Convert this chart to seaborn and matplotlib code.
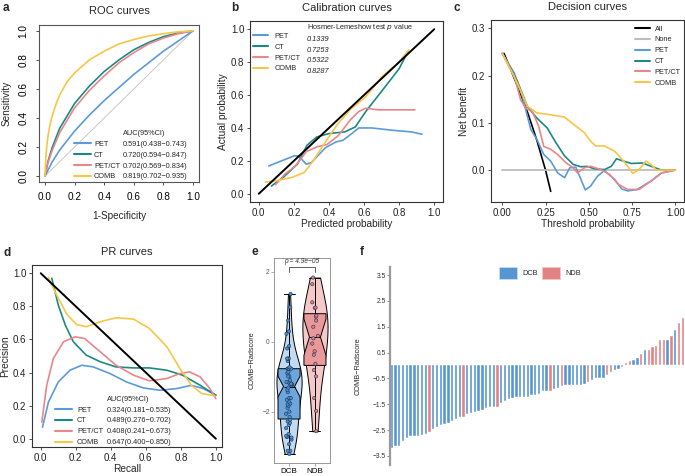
import numpy as np
import pandas as pd
import matplotlib
matplotlib.use("Agg")
import matplotlib.pyplot as plt
import seaborn as sns
from matplotlib.lines import Line2D
from matplotlib.patches import Patch

sns.set_theme(style="white")
plt.rcParams['font.family'] = ['Liberation Sans', 'DejaVu Sans']

models = ['PET', 'CT', 'PET/CT', 'COMB']
pal = {'PET': '#5b9bd9', 'CT': '#1b8a83', 'PET/CT': '#e9868a', 'COMB': '#f7c645'}

#%% data
# a - ROC
roc_fpr = {
    'PET':    [0, 0.05, 0.1, 0.2, 0.3, 0.4, 0.5, 0.6, 0.7, 0.8, 0.9, 1],
    'CT':     [0, 0.02, 0.05, 0.1, 0.2, 0.3, 0.4, 0.5, 0.6, 0.7, 0.8, 0.9, 1],
    'PET/CT': [0, 0.02, 0.05, 0.1, 0.2, 0.3, 0.4, 0.5, 0.6, 0.7, 0.8, 0.9, 1],
    'COMB':   [0, 0.005, 0.01, 0.02, 0.03, 0.045, 0.06, 0.08, 0.1, 0.15, 0.2, 0.3, 0.4, 0.5, 0.6, 0.7, 0.8, 0.9, 1],
}
roc_tpr = {
    'PET':    [0, 0.10, 0.18, 0.31, 0.42, 0.52, 0.61, 0.70, 0.78, 0.86, 0.93, 1],
    'CT':     [0, 0.10, 0.20, 0.33, 0.50, 0.62, 0.72, 0.80, 0.87, 0.92, 0.96, 0.985, 1],
    'PET/CT': [0, 0.09, 0.18, 0.30, 0.47, 0.59, 0.69, 0.78, 0.85, 0.91, 0.95, 0.98, 1],
    'COMB':   [0, 0.11, 0.18, 0.27, 0.33, 0.40, 0.45, 0.51, 0.56, 0.65, 0.71, 0.80, 0.86, 0.91, 0.94, 0.965, 0.98, 0.993, 1],
}
roc_auc = ['0.591(0.438\u22120.743)', '0.720(0.594\u22120.847)',
           '0.702(0.569\u22120.834)', '0.819(0.702\u22120.935)']

# b - calibration
cal_x = {
    'PET':    [0.057, 0.2, 0.228, 0.27, 0.30, 0.38, 0.44, 0.48, 0.53, 0.57, 0.645, 0.76, 0.87, 0.93],
    'CT':     [0.072, 0.14, 0.22, 0.275, 0.33, 0.40, 0.49, 0.55, 0.61, 0.72, 0.80, 0.85],
    'PET/CT': [0.095, 0.15, 0.21, 0.27, 0.33, 0.39, 0.455, 0.52, 0.57, 0.61, 0.68, 0.80, 0.89],
    'COMB':   [0.038, 0.11, 0.19, 0.26, 0.31, 0.38, 0.445, 0.52, 0.61, 0.70, 0.80, 0.855],
}
cal_y = {
    'PET':    [0.169, 0.23, 0.23, 0.18, 0.19, 0.28, 0.315, 0.325, 0.366, 0.40, 0.40, 0.386, 0.376, 0.362],
    'CT':     [0.047, 0.10, 0.18, 0.295, 0.345, 0.366, 0.376, 0.406, 0.50, 0.65, 0.76, 0.864],
    'PET/CT': [0.055, 0.12, 0.17, 0.255, 0.285, 0.30, 0.355, 0.447, 0.50, 0.52, 0.51, 0.51, 0.51],
    'COMB':   [0.071, 0.081, 0.10, 0.13, 0.20, 0.315, 0.417, 0.51, 0.59, 0.71, 0.80, 0.874],
}
hl_p = ['0.1339', '0.7253', '0.5322', '0.8287']

# c - decision curves
dca_all_t = [0.01, 0.1, 0.15, 0.2, 0.25, 0.28]
dca_all_nb = [0.247, 0.167, 0.118, 0.063, 0.0, -0.045]
dca_none_t = [0.0, 1.0]
dca_none_nb = [0.0, 0.0]
dca_t = {
    'PET':    [0.0, 0.07, 0.116, 0.165, 0.2, 0.24, 0.28, 0.32, 0.36, 0.39, 0.425, 0.455, 0.48, 0.51, 0.55, 0.59, 0.65, 0.69, 0.725, 0.78, 0.86, 0.92, 1.0],
    'CT':     [0.0, 0.087, 0.145, 0.2, 0.26, 0.31, 0.36, 0.41, 0.455, 0.49, 0.53, 0.59, 0.63, 0.66, 0.70, 0.745, 0.81, 0.86, 0.92, 1.0],
    'PET/CT': [0.0, 0.07, 0.106, 0.135, 0.174, 0.21, 0.24, 0.28, 0.32, 0.37, 0.41, 0.435, 0.475, 0.51, 0.57, 0.62, 0.67, 0.725, 0.79, 0.86, 0.92, 1.0],
    'COMB':   [0.0, 0.087, 0.145, 0.2, 0.28, 0.36, 0.415, 0.475, 0.51, 0.54, 0.59, 0.65, 0.71, 0.755, 0.79, 0.83, 0.86, 0.89, 1.0],
}
dca_nb = {
    'PET':    [0.247, 0.205, 0.156, 0.086, 0.065, 0.033, 0.019, -0.006, -0.016, 0.005, 0.006, -0.02, -0.042, -0.034, -0.013, -0.001, -0.02, -0.04, -0.044, -0.041, -0.023, -0.006, 0.0],
    'CT':     [0.247, 0.188, 0.135, 0.11, 0.089, 0.058, 0.03, 0.012, 0.007, 0.008, 0.003, 0.001, 0.008, 0.024, 0.019, 0.014, 0.015, 0.008, 0.0, 0.0],
    'PET/CT': [0.247, 0.198, 0.149, 0.131, 0.124, 0.093, 0.05, 0.044, 0.033, 0.015, 0.005, -0.006, 0.005, 0.008, 0.001, -0.009, -0.03, -0.041, -0.041, -0.023, -0.006, 0.0],
    'COMB':   [0.247, 0.184, 0.135, 0.121, 0.117, 0.112, 0.096, 0.079, 0.061, 0.051, 0.051, 0.04, 0.015, -0.007, 0.001, 0.019, 0.012, 0.0, 0.0],
}

# d - PR curves
pr_rec = {
    'PET':    [0.01, 0.044, 0.10, 0.167, 0.234, 0.30, 0.395, 0.49, 0.586, 0.68, 0.776, 0.86, 0.928, 1.0],
    'CT':     [0.063, 0.10, 0.14, 0.186, 0.26, 0.34, 0.43, 0.53, 0.62, 0.72, 0.81, 0.91, 1.0],
    'PET/CT': [0.006, 0.034, 0.072, 0.13, 0.196, 0.25, 0.34, 0.43, 0.53, 0.62, 0.72, 0.795, 0.85, 0.91, 0.966, 1.0],
    'COMB':   [0.044, 0.09, 0.15, 0.205, 0.26, 0.34, 0.43, 0.53, 0.62, 0.72, 0.795, 0.86, 0.92, 0.994],
}
pr_prec = {
    'PET':    [0.07, 0.222, 0.343, 0.414, 0.444, 0.434, 0.394, 0.343, 0.307, 0.293, 0.303, 0.323, 0.303, 0.263],
    'CT':     [0.97, 0.808, 0.687, 0.586, 0.505, 0.465, 0.434, 0.428, 0.428, 0.414, 0.384, 0.323, 0.263],
    'PET/CT': [0.10, 0.323, 0.485, 0.586, 0.616, 0.606, 0.525, 0.444, 0.384, 0.35, 0.364, 0.394, 0.404, 0.374, 0.303, 0.242],
    'COMB':   [0.974, 0.87, 0.75, 0.69, 0.677, 0.707, 0.731, 0.723, 0.667, 0.556, 0.424, 0.323, 0.273, 0.259],
}
pr_auc = ['0.324(0.181\u22120.535)', '0.489(0.276\u22120.702)',
          '0.408(0.241\u22120.673)', '0.647(0.400\u22120.850)']

# e/f - COMB radscore per patient (sorted), group code D=DCB, N=NDB
radscore = [-3.21, -3.12, -3.12, -2.93, -2.80, -2.74, -2.72, -2.72, -2.69, -2.64,
            -2.56, -2.47, -2.38, -2.32, -2.28, -2.23, -2.15, -2.06, -2.00, -1.98,
            -1.89, -1.83, -1.79, -1.77, -1.71, -1.66, -1.61, -1.61, -1.61, -1.44,
            -1.38, -1.31, -1.25, -1.22, -1.22, -1.20, -1.20, -1.16, -1.15, -1.10,
            -0.99, -0.99, -0.99, -0.90, -0.86, -0.81, -0.77, -0.77, -0.77, -0.77,
            -0.77, -0.73, -0.63, -0.55, -0.48, -0.48, -0.48, -0.37, -0.27, -0.19,
            -0.12, -0.05, 0.10, 0.17, 0.23, 0.30, 0.43, 0.61, 0.61, 0.72,
            0.75, 0.97, 0.98, 0.99, 1.13, 1.37, 1.65, 1.84]
group_code = ("DDDDDDDDDD" "N" "DDDDDDDD" "N" "DDDDDDDD" "N" "DDDDDDDDDDDDD" "N"
              "DD" "N" "DDDDDD" "N" "DDDD" "NN" "DD" "NNN" "DD" "N" "D" "NNNNN"
              "D" "N" "D" "NN")
groups = ['DCB' if c == 'D' else 'NDB' for c in group_code]
p_text = 'p = 4.9e\u221205'

grp_bar = {'DCB': '#5596d3', 'NDB': '#e38284'}
grp_violin = {'DCB': '#c3daf1', 'NDB': '#f5c9c9'}
grp_box = {'DCB': '#6ea6dc', 'NDB': '#e9999a'}
grp_pt = {'DCB': '#4a8fd6', 'NDB': '#e67c7f'}

#%% helpers
TK = 7
LF = 5.3
LS = 0.5
W, H = 685, 476

def px_axes(fig, l, t, r, b):
    return fig.add_axes([l / W, 1 - b / H, (r - l) / W, (b - t) / H])

def long_df(xs, ys):
    parts = [pd.DataFrame({'model': m, 'x': xs[m], 'y': ys[m]}) for m in models]
    return pd.concat(parts, ignore_index=True)

def gg_style(ax):
    for s in ax.spines.values():
        s.set_color('#333333')
        s.set_linewidth(0.8)
    ax.tick_params(axis='both', which='both', direction='out', length=2.5, width=0.6,
                   color='#333333', labelsize=TK, labelcolor='#222222', pad=1.5,
                   bottom=True, left=True)

def two_col_legend(ax, handles, names, values, header, x_line, x_val, y, loc,
                   hl, pad, italic_vals=False, spacing=LS):
    blank = Line2D([], [], color='none')
    leg1 = ax.legend([blank] + handles, [''] + names, loc=loc, bbox_to_anchor=(x_line, y),
                     frameon=False, fontsize=LF, handlelength=hl, handletextpad=pad,
                     borderpad=0, borderaxespad=0, labelspacing=spacing)
    ax.add_artist(leg1)
    leg2 = ax.legend([blank] * 5, [header] + values, loc=loc, bbox_to_anchor=(x_val, y),
                     frameon=False, fontsize=LF, handlelength=0, handletextpad=0,
                     borderpad=0, borderaxespad=0, labelspacing=spacing)
    if italic_vals:
        for t in leg2.get_texts()[1:]:
            t.set_style('italic')
    return leg2

fig = plt.figure(figsize=(6.85, 4.76), dpi=100)

def letter(x, y, s):
    fig.text(x / W, 1 - y / H, s, fontsize=8.5, fontweight='bold', ha='left', va='center')

#%% a ROC
ax = px_axes(fig, 39, 25, 199, 182)
sns.lineplot(x=[0, 1], y=[0, 1], color='#c8c8c8', lw=0.7, ax=ax)
sns.lineplot(data=long_df(roc_fpr, roc_tpr), x='x', y='y', hue='model', hue_order=models,
             palette=pal, sort=False, estimator=None, lw=1.2, legend=False, ax=ax)
ax.set_xlim(-0.04, 1.04)
ax.set_ylim(-0.04, 1.04)
ax.set_xticks(np.arange(0, 1.01, 0.2))
ax.set_yticks(np.arange(0, 1.01, 0.2))
gg_style(ax)
for s in ax.spines.values():
    s.set_color('#555555')
ax.tick_params(axis='y', labelrotation=90)
for t in ax.get_yticklabels():
    t.set_va('center')
ax.tick_params(labelcolor='black', labelsize=7.2, pad=5)
ax.set_xlabel('1-Specificity', fontsize=7.2, labelpad=6)
ax.set_ylabel('Sensitivity', fontsize=7.2, labelpad=5)
ax.set_title('ROC curves', fontsize=8, pad=8)
h = [Line2D([], [], color=pal[m], lw=1.5) for m in models]
two_col_legend(ax, h, models, roc_auc, 'AUC(95%CI)', 0.219, 0.525, 0.01, 'lower left', 2.3, 0.4)
letter(3, 8, 'a')

#%% b calibration
ax = px_axes(fig, 250, 21, 443, 202)
sns.lineplot(data=long_df(cal_x, cal_y), x='x', y='y', hue='model', hue_order=models,
             palette=pal, sort=False, estimator=None, lw=1.2, legend=False, ax=ax)
sns.lineplot(x=[0, 1], y=[0, 1], color='black', lw=1.4, ax=ax)
ax.set_xlim(-0.05, 1.05)
ax.set_ylim(-0.05, 1.05)
ax.set_xticks(np.arange(0, 1.01, 0.2))
ax.set_yticks(np.arange(0, 1.01, 0.2))
gg_style(ax)
ax.set_xlabel('Predicted probability', fontsize=7.3, labelpad=1)
ax.set_ylabel('Actual probability', fontsize=7.3, labelpad=2)
ax.set_title('Calibration curves', fontsize=8, pad=7)
two_col_legend(ax, h, models, hl_p, 'Hosmer-Lemeshow test $\\it{p}$ value',
               0.016, 0.295, 0.995, 'upper left', 2.0, 0.95, italic_vals=True)
letter(231, 8, 'b')

#%% c decision curves
ax = px_axes(fig, 491, 20, 684, 202)
sns.lineplot(x=dca_all_t, y=dca_all_nb, color='black', lw=1.2, ax=ax)
sns.lineplot(x=dca_none_t, y=dca_none_nb, color='#bdbdbd', lw=1.3, ax=ax)
sns.lineplot(data=long_df(dca_t, dca_nb), x='x', y='y', hue='model', hue_order=models,
             palette=pal, sort=False, estimator=None, lw=1.2, legend=False, ax=ax)
ax.set_xlim(-0.065, 1.05)
ax.set_ylim(-0.0675, 0.3175)
ax.set_xticks([0, 0.25, 0.5, 0.75, 1.0])
ax.set_xticklabels(['0.00', '0.25', '0.50', '0.75', '1.00'])
ax.set_yticks([0, 0.1, 0.2, 0.3])
gg_style(ax)
ax.set_xlabel('Threshold probability', fontsize=7.3, labelpad=1)
ax.set_ylabel('Net benefit', fontsize=7.3, labelpad=2)
ax.set_title('Decision curves', fontsize=8, pad=7)
hc = [Line2D([], [], color='black', lw=1.5), Line2D([], [], color='#bdbdbd', lw=1.5)] + h
ax.legend(hc, ['All', 'None'] + models, loc='upper left', bbox_to_anchor=(0.746, 0.97),
          frameon=False, fontsize=LF, handlelength=2.0, handletextpad=0.7,
          borderpad=0, borderaxespad=0, labelspacing=LS)
letter(453, 8, 'c')

#%% d PR curves
ax = px_axes(fig, 32, 265, 222, 447)
sns.lineplot(data=long_df(pr_rec, pr_prec), x='x', y='y', hue='model', hue_order=models,
             palette=pal, sort=False, estimator=None, lw=1.2, legend=False, ax=ax)
sns.lineplot(x=[0, 1], y=[1, 0], color='black', lw=1.4, ax=ax)
ax.set_xlim(-0.05, 1.035)
ax.set_ylim(-0.05, 1.05)
ax.set_xticks(np.arange(0, 1.01, 0.2))
ax.set_yticks(np.arange(0, 1.01, 0.2))
gg_style(ax)
ax.set_xlabel('Recall', fontsize=7.3, labelpad=1)
ax.set_ylabel('Precision', fontsize=7.3, labelpad=2)
ax.set_title('PR curves', fontsize=8, pad=7)
two_col_legend(ax, h, models, pr_auc, 'AUC(95%CI)', 0.121, 0.395, 0.005, 'lower left', 2.3, 0.7)
letter(3, 253, 'd')

#%% e violin
df_e = pd.DataFrame({'group': groups, 'score': radscore})
order = ['DCB', 'NDB']
ax = px_axes(fig, 274, 258, 330, 463)
sns.violinplot(data=df_e, x='group', y='score', hue='group', order=order, hue_order=order,
               palette=grp_violin, cut=0, inner=None, width=0.97, saturation=1,
               density_norm='width', linewidth=0.7, linecolor='black', legend=False, ax=ax)
sns.boxplot(data=df_e, x='group', y='score', hue='group', order=order, hue_order=order,
            palette=grp_box, notch=True, width=0.85, saturation=1, showfliers=False,
            linewidth=0.7, linecolor='black', legend=False, ax=ax)
np.random.seed(3)
sns.stripplot(data=df_e, x='group', y='score', hue='group', order=order, hue_order=order,
              palette=grp_pt, jitter=0.12, size=2.4, edgecolor='#1d3550', linewidth=0.4,
              legend=False, ax=ax)
ax.plot([0, 0, 1, 1], [2.0, 2.14, 2.14, 2.0], color='#444444', lw=0.6)
ax.text(0.5, 2.2, p_text, ha='center', va='bottom', fontsize=4.8, style='italic', color='#333333')
ax.set_xlim(-0.58, 1.58)
ax.set_ylim(-3.47, 2.4)
ax.set_yticks([-2, 0, 2])
for s in ax.spines.values():
    s.set_color('#888888')
    s.set_linewidth(0.6)
ax.tick_params(axis='y', left=True, length=2, width=0.5, color='#888888', labelsize=4.8,
               labelcolor='#555555', pad=1)
ax.tick_params(axis='x', bottom=True, length=2, width=0.5, color='#888888', labelsize=5.8,
               labelcolor='black', pad=1.5)
ax.set_xlabel('')
ax.set_ylabel('COMB\u2212Radscore', fontsize=5.3, labelpad=5)
letter(252, 252, 'e')

#%% f waterfall
ax = px_axes(fig, 390, 267, 685, 465)
bar_idx = list(range(len(radscore)))
sns.barplot(x=bar_idx, y=radscore, hue=groups, hue_order=order, palette=grp_bar,
            dodge=False, width=0.62, saturation=1, edgecolor='white', linewidth=0.3,
            errorbar=None, legend=False, ax=ax)
ax.set_xlim(-0.45, len(radscore) - 0.4)
ax.set_ylim(-3.85, 3.81)
ax.set_yticks(np.arange(-3.5, 3.6, 1.0))
ax.set_xticks([])
sns.despine(ax=ax, top=True, right=True, bottom=True)
ax.spines['left'].set_color('#9a9a9a')
ax.spines['left'].set_linewidth(1.6)
ax.tick_params(axis='y', left=True, length=2, width=0.5, color='#555555', labelsize=4.8,
               labelcolor='#333333', pad=1)
ax.set_ylabel('COMB\u2212Radscore', fontsize=5.3, labelpad=8)
ax.legend([Patch(facecolor=grp_bar[g], edgecolor='#d0e0f0' if g == 'DCB' else '#f3c8c8', lw=0.5)
           for g in order], order, loc='upper left', bbox_to_anchor=(0.37, 1.0), ncol=2,
          frameon=False, fontsize=5.3, handlelength=2.45, handleheight=2.2,
          handletextpad=0.7, columnspacing=0.6, borderpad=0, borderaxespad=0)
letter(360, 252, 'f')

fig.savefig('out.png', dpi=100)
